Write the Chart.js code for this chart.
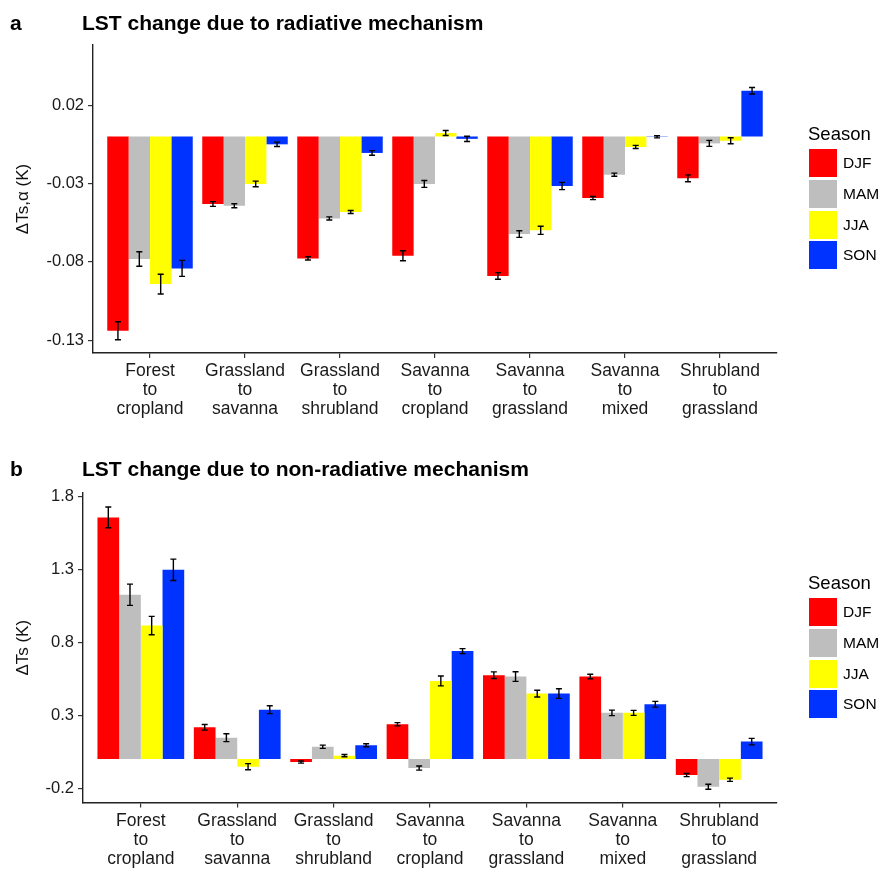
<!DOCTYPE html>
<html>
<head>
<meta charset="utf-8">
<script src="https://cdn.jsdelivr.net/npm/chart.js@4.4.1/dist/chart.umd.min.js"></script>
<style>
  html, body { margin: 0; padding: 0; background: #fff; width: 878px; height: 871px; overflow: hidden;
    font-family: "Liberation Sans", Arial, sans-serif; }
  .panel { position: absolute; left: 0; width: 878px; }
  #pa { top: 0; height: 440px; }
  #pb { top: 440px; height: 431px; }
  .panel canvas { position: absolute; left: 0; top: 0; }
  .tag, .ttl { position: absolute; font-weight: bold; font-size: 21px; line-height: 1; color: #000; white-space: nowrap; }
  .tag { left: 10px; }
  .ttl { left: 82px; }
  .leg-title { position: absolute; left: 808px; font-size: 18.5px; line-height: 1; color: #000; white-space: nowrap; }
  .leg-key { position: absolute; left: 809px; width: 28px; height: 28px; }
  .leg-lab { position: absolute; left: 843px; font-size: 15.5px; line-height: 28px; color: #000; white-space: nowrap; }
</style>
</head>
<body>
<div class="panel" id="pa">
  <canvas id="chartA" width="878" height="440"></canvas>
  <div class="tag" style="top:12px">a</div>
  <div class="ttl" style="top:12px">LST change due to radiative mechanism</div>
</div>
<div class="panel" id="pb">
  <canvas id="chartB" width="878" height="431"></canvas>
  <div class="tag" style="top:18px">b</div>
  <div class="ttl" style="top:18px">LST change due to non-radiative mechanism</div>
</div>
<script>
// Land-cover transitions on the x axis
const categories = ['Forest to cropland', 'Grassland to savanna', 'Grassland to shrubland',
  'Savanna to cropland', 'Savanna to grassland', 'Savanna to mixed', 'Shrubland to grassland'];
const seasons = ['DJF', 'MAM', 'JJA', 'SON'];
const seasonColors = ['#FF0000', '#BEBEBE', '#FFFF00', '#0033FF'];

// (a) radiative mechanism, ΔTs,α (K), mean and error half-width per season
const radDJF = [-0.124, -0.0431, -0.0778, -0.0761, -0.089, -0.0393, -0.0267];
const radMAM = [-0.0782, -0.0442, -0.0523, -0.0303, -0.0623, -0.0244, -0.0044];
const radJJA = [-0.0942, -0.0303, -0.0482, 0.0022, -0.0599, -0.0067, -0.0027];
const radSON = [-0.0842, -0.005, -0.0105, -0.0015, -0.0316, -0.0002, 0.0292];
const radErrDJF = [0.0057, 0.0015, 0.001, 0.0032, 0.0021, 0.001, 0.0022];
const radErrMAM = [0.0046, 0.0013, 0.001, 0.0022, 0.0021, 0.001, 0.0019];
const radErrJJA = [0.0063, 0.0018, 0.001, 0.0016, 0.0026, 0.001, 0.0019];
const radErrSON = [0.0051, 0.0014, 0.0015, 0.0017, 0.0023, 0.0007, 0.0021];

// (b) non-radiative mechanism, ΔTs (K)
const nonDJF = [1.655, 0.217, -0.021, 0.238, 0.574, 0.565, -0.110];
const nonMAM = [1.125, 0.146, 0.084, -0.062, 0.565, 0.316, -0.190];
const nonJJA = [0.914, -0.053, 0.023, 0.535, 0.448, 0.316, -0.142];
const nonSON = [1.296, 0.338, 0.094, 0.739, 0.448, 0.375, 0.119];
const nonErrDJF = [0.071, 0.019, 0.007, 0.011, 0.023, 0.015, 0.011];
const nonErrMAM = [0.073, 0.027, 0.011, 0.014, 0.033, 0.019, 0.017];
const nonErrJJA = [0.063, 0.021, 0.008, 0.034, 0.023, 0.017, 0.011];
const nonErrSON = [0.073, 0.027, 0.010, 0.017, 0.033, 0.020, 0.022];

// y tick labels
const yTicksA = ['0.02', '-0.03', '-0.08', '-0.13'];
const yTicksB = ['1.8', '1.3', '0.8', '0.3', '-0.2'];

const FONT = '"Liberation Sans", Arial, sans-serif';
Chart.defaults.font.family = FONT;

// Vertical error bars with flat caps, drawn over each bar
const errorBars = {
  id: 'errorBars',
  afterDatasetsDraw(chart) {
    const ctx = chart.ctx;
    const ys = chart.scales.y;
    ctx.save();
    ctx.strokeStyle = '#000';
    ctx.lineWidth = 1.4;
    chart.data.datasets.forEach((ds, di) => {
      const meta = chart.getDatasetMeta(di);
      meta.data.forEach((bar, i) => {
        const v = ds.data[i].y, e = ds.errors[i];
        const x = bar.x;
        const y1 = ys.getPixelForValue(v - e), y2 = ys.getPixelForValue(v + e);
        ctx.beginPath();
        ctx.moveTo(x, y1); ctx.lineTo(x, y2);
        ctx.moveTo(x - 3, y1); ctx.lineTo(x + 3, y1);
        ctx.moveTo(x - 3, y2); ctx.lineTo(x + 3, y2);
        ctx.stroke();
      });
    });
    ctx.restore();
  }
};

function makeChart(canvasId, series, errs, yTicks, yMin, yMax, yTitle, geom) {
  const labelLines = categories.map(c => { const p = c.split(' to '); return [p[0], 'to', p[1]]; });
  const datasets = seasons.map((s, k) => ({
    label: s,
    data: series[k].map((v, i) => ({ x: i, y: v })),
    errors: errs[k],
    backgroundColor: seasonColors[k],
    borderWidth: 0,
    categoryPercentage: 0.9,
    barPercentage: 1.0
  }));
  return new Chart(document.getElementById(canvasId), {
    type: 'bar',
    data: { datasets },
    plugins: [errorBars],
    options: {
      responsive: false,
      animation: false,
      devicePixelRatio: 1,
      layout: { padding: { top: geom.top, right: geom.right, bottom: 0, left: 0 } },
      plugins: { legend: { display: false }, tooltip: { enabled: false }, title: { display: false } },
      scales: {
        x: {
          type: 'linear',
          min: -0.6, max: categories.length - 0.4,
          offset: false,
          afterBuildTicks: ax => { ax.ticks = categories.map((c, i) => ({ value: i })); },
          afterFit: ax => { ax.height = geom.xHeight; },
          ticks: {
            autoSkip: false, maxRotation: 0, minRotation: 0,
            callback: v => labelLines[v],
            font: { size: 17.5, lineHeight: 19 / 17.5 }, color: '#1a1a1a', padding: 4
          },
          grid: { display: true, offset: false, drawOnChartArea: false, drawTicks: true, tickLength: 5, color: '#333', lineWidth: 1.2 },
          border: { display: true, color: '#222', width: 1.4 }
        },
        y: {
          min: yMin, max: yMax,
          afterBuildTicks: ax => { ax.ticks = yTicks.map(s => ({ value: parseFloat(s) })); },
          afterFit: ax => { ax.width = geom.yWidth; },
          ticks: {
            callback: (v, i) => yTicks[i],
            font: { size: 16.5 }, color: '#1a1a1a', padding: 4
          },
          grid: { display: true, offset: false, drawOnChartArea: false, drawTicks: true, tickLength: 5, color: '#333', lineWidth: 1.2 },
          border: { display: true, color: '#222', width: 1.4 },
          title: { display: true, text: yTitle, font: { size: 17 }, color: '#111', padding: { top: 13, bottom: 0 } }
        }
      }
    }
  });
}

makeChart('chartA', [radDJF, radMAM, radJJA, radSON], [radErrDJF, radErrMAM, radErrJJA, radErrSON],
  yTicksA, -0.1382, 0.0584, 'ΔTs,α (K)', { top: 45, right: 101, xHeight: 87, yWidth: 93 });
makeChart('chartB', [nonDJF, nonMAM, nonJJA, nonSON], [nonErrDJF, nonErrMAM, nonErrJJA, nonErrSON],
  yTicksB, -0.298, 1.822, 'ΔTs (K)', { top: 53, right: 101, xHeight: 68.5, yWidth: 83 });

// Season legends beside each panel
function buildLegend(panelId, top) {
  const p = document.getElementById(panelId);
  const t = document.createElement('div');
  t.className = 'leg-title'; t.style.top = (top - 24) + 'px'; t.textContent = 'Season';
  p.appendChild(t);
  seasons.forEach((s, k) => {
    const y = top + k * 30.7;
    const key = document.createElement('div');
    key.className = 'leg-key'; key.style.top = y + 'px'; key.style.background = seasonColors[k];
    const lab = document.createElement('div');
    lab.className = 'leg-lab'; lab.style.top = y + 'px'; lab.textContent = s;
    p.appendChild(key); p.appendChild(lab);
  });
}
buildLegend('pa', 149.3);
buildLegend('pb', 158.3);
</script>
</body>
</html>
